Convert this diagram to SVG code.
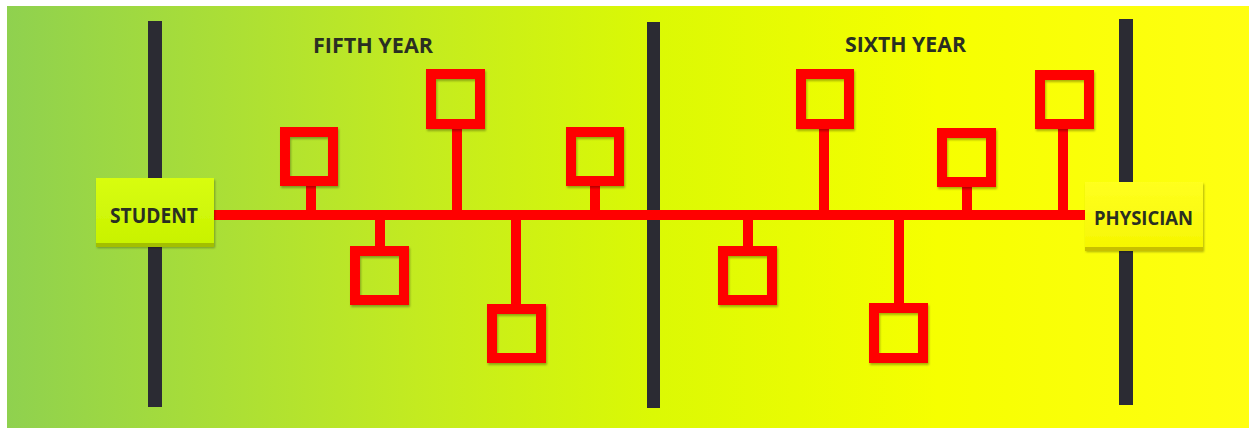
<svg xmlns="http://www.w3.org/2000/svg" width="1249" height="428" viewBox="0 0 1249 428">
  <defs>
    <linearGradient id="bg" x1="0" y1="0" x2="1" y2="0">
      <stop offset="0" stop-color="#8fd14f"/>
      <stop offset="0.33" stop-color="#c3eb20"/>
      <stop offset="0.52" stop-color="#dbf904"/>
      <stop offset="0.75" stop-color="#f6ff00"/>
      <stop offset="1" stop-color="#ffff12"/>
    </linearGradient>
    <linearGradient id="sbox" x1="0" y1="0" x2="0" y2="1">
      <stop offset="0" stop-color="#d8fd10"/>
      <stop offset="1" stop-color="#c8f200"/>
    </linearGradient>
    <linearGradient id="pbox" x1="0" y1="0" x2="0" y2="1">
      <stop offset="0" stop-color="#ffff20"/>
      <stop offset="1" stop-color="#f6f600"/>
    </linearGradient>
    <filter id="sh" x="-20%" y="-20%" width="140%" height="150%">
      <feDropShadow dx="1" dy="2" stdDeviation="1" flood-color="#000" flood-opacity="0.3"/>
    </filter>
  </defs>
  <style>
    .bar { fill: #2b2b33; }
    .wire { stroke: #ff0000; stroke-width: 10; fill: none; }
    .sq { fill: none; stroke: #ff0000; stroke-width: 10; filter: url(#sh); }
    .lbl { font-family: "Open Sans", "Liberation Sans", sans-serif; font-weight: bold; fill: #2a2f22; }
    .box { filter: url(#sh); }
  </style>
  <rect x="0" y="0" width="1249" height="428" fill="#ffffff"/>
  <rect x="7" y="6" width="1242" height="422" fill="url(#bg)"/>

  <g id="dividers">
    <rect class="bar" x="148" y="21" width="14" height="386"/>
    <rect class="bar" x="647" y="22" width="13" height="386"/>
    <rect class="bar" x="1119" y="19" width="14" height="386"/>
  </g>

  <g id="connectors">
    <line class="wire" x1="213" y1="215" x2="1086" y2="215"/>
    <line class="wire" x1="311" y1="184" x2="311" y2="215"/>
    <line class="wire" x1="457" y1="127" x2="457" y2="215"/>
    <line class="wire" x1="595" y1="184" x2="595" y2="215"/>
    <line class="wire" x1="380" y1="215" x2="380" y2="248"/>
    <line class="wire" x1="516" y1="215" x2="516" y2="306"/>
    <line class="wire" x1="824" y1="127" x2="824" y2="215"/>
    <line class="wire" x1="967" y1="185" x2="967" y2="215"/>
    <line class="wire" x1="1063" y1="127" x2="1063" y2="215"/>
    <line class="wire" x1="748" y1="215" x2="748" y2="248"/>
    <line class="wire" x1="899" y1="215" x2="899" y2="305"/>
  </g>

  <g id="s1"><rect class="sq" x="285" y="132" width="48" height="49"/></g>
  <g id="s2"><rect class="sq" x="431" y="74" width="49" height="50"/></g>
  <g id="s3"><rect class="sq" x="571" y="132" width="48" height="49"/></g>
  <g id="s4"><rect class="sq" x="355" y="251" width="49" height="49"/></g>
  <g id="s5"><rect class="sq" x="492" y="309" width="49" height="49"/></g>
  <g id="s6"><rect class="sq" x="801" y="74" width="48" height="50"/></g>
  <g id="s7"><rect class="sq" x="942" y="133" width="49" height="49"/></g>
  <g id="s8"><rect class="sq" x="1040" y="75" width="49" height="49"/></g>
  <g id="s9"><rect class="sq" x="723" y="251" width="49" height="49"/></g>
  <g id="s10"><rect class="sq" x="874" y="308" width="49" height="50"/></g>

  <g id="student">
    <rect class="box" x="96" y="178" width="118" height="68" fill="url(#sbox)"/>
    <rect x="96" y="243" width="118" height="4" fill="#a3bf00"/>
    <text class="lbl" x="154" y="223" font-size="21" text-anchor="middle" textLength="88" lengthAdjust="spacingAndGlyphs">STUDENT</text>
  </g>

  <g id="physician">
    <rect class="box" x="1085" y="182" width="118" height="68" fill="url(#pbox)"/>
    <rect x="1085" y="247" width="118" height="4" fill="#c8c000"/>
    <text class="lbl" x="1143.5" y="225" font-size="20" text-anchor="middle" textLength="99" lengthAdjust="spacingAndGlyphs">PHYSICIAN</text>
  </g>

  <g id="fifth-year">
    <text class="lbl" x="313" y="53" font-size="22" textLength="120" lengthAdjust="spacingAndGlyphs">FIFTH YEAR</text>
  </g>
  <g id="sixth-year">
    <text class="lbl" x="845" y="52" font-size="21" textLength="121" lengthAdjust="spacingAndGlyphs">SIXTH YEAR</text>
  </g>
</svg>
